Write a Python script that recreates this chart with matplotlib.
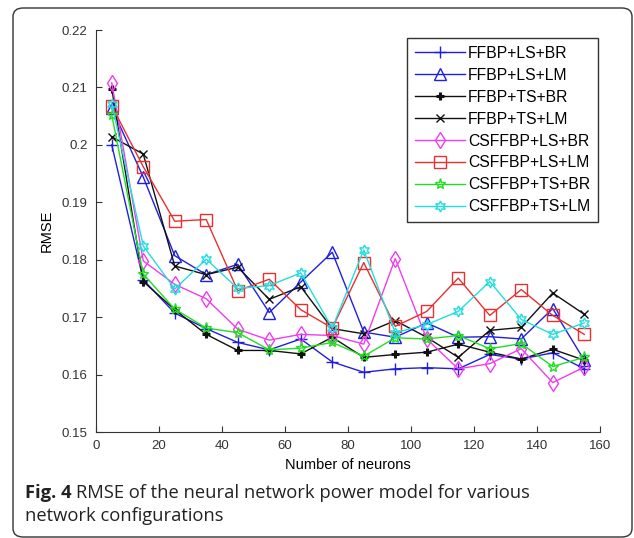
import matplotlib
matplotlib.use('Agg')
import matplotlib.pyplot as plt
from matplotlib.patches import FancyBboxPatch

# data
neurons = [5, 15, 25, 35, 45, 55, 65, 75, 85, 95, 105, 115, 125, 135, 145, 155]
labels = ["FFBP+LS+BR", "FFBP+LS+LM", "FFBP+TS+BR", "FFBP+TS+LM",
          "CSFFBP+LS+BR", "CSFFBP+LS+LM", "CSFFBP+TS+BR", "CSFFBP+TS+LM"]
ffbp_ls_br = [0.200, 0.1765, 0.1707, 0.168, 0.1656, 0.1643, 0.1662, 0.1622,
              0.1604, 0.1610, 0.1612, 0.1610, 0.1635, 0.1627, 0.1638, 0.1610]
ffbp_ls_lm = [0.2064, 0.1944, 0.1807, 0.1774, 0.1792, 0.1708, 0.1761, 0.1813,
              0.1674, 0.1665, 0.1690, 0.1665, 0.1666, 0.1662, 0.1715, 0.1625]
ffbp_ts_br = [0.2098, 0.1762, 0.1713, 0.1670, 0.1642, 0.1642, 0.1636, 0.1665,
              0.1630, 0.1635, 0.1639, 0.1653, 0.1639, 0.1627, 0.1644, 0.1625]
ffbp_ts_lm = [0.2014, 0.1984, 0.1789, 0.1774, 0.1787, 0.1731, 0.1753, 0.1680,
              0.1671, 0.1694, 0.1665, 0.1630, 0.1677, 0.1682, 0.1742, 0.1705]
csffbp_ls_br = [0.2108, 0.1798, 0.1757, 0.1732, 0.1679, 0.1660, 0.1670, 0.1668,
                0.1653, 0.1802, 0.1662, 0.1610, 0.1619, 0.1645, 0.1586, 0.1613]
csffbp_ls_lm = [0.2068, 0.1962, 0.1867, 0.1870, 0.1746, 0.1766, 0.1713, 0.1681,
                0.1795, 0.1684, 0.1710, 0.1768, 0.1703, 0.1748, 0.1703, 0.1670]
csffbp_ts_br = [0.2052, 0.1775, 0.1714, 0.1681, 0.1673, 0.1643, 0.1646, 0.1656,
                0.1632, 0.1664, 0.1662, 0.1668, 0.1645, 0.1654, 0.1614, 0.1630]
csffbp_ts_lm = [0.2072, 0.1824, 0.1749, 0.1801, 0.1750, 0.1755, 0.1777, 0.1681,
                0.1817, 0.1673, 0.1687, 0.1710, 0.1762, 0.1696, 0.1670, 0.1690]

series = [ffbp_ls_br, ffbp_ls_lm, ffbp_ts_br, ffbp_ts_lm,
          csffbp_ls_br, csffbp_ls_lm, csffbp_ts_br, csffbp_ts_lm]
colors = ["#1f1fe0", "#1f1fe0", "#111111", "#111111",
          "#f03cf0", "#e83030", "#22dd22", "#22dede"]
markers = ["+", "^", "+", "x", "d", "s", "*", (6, 1, 0)]
msizes = [9, 8, 6, 6, 8, 9, 8, 8]
mews = [1.0, 1.0, 2.2, 1.0, 1.0, 1.0, 1.0, 1.0]

plt.rcParams["font.family"] = ["Liberation Sans", "DejaVu Sans"]

fig = plt.figure(figsize=(6.34, 5.38), dpi=100)
fig.patch.set_facecolor("white")

# rounded frame round the whole figure
W, H = 634, 538
frame = FancyBboxPatch((13 / W, 1 / H), 619 / W, 529 / H,
                       boxstyle="round,pad=0,rounding_size=0.016",
                       transform=fig.transFigure, fill=False,
                       edgecolor="#333333", linewidth=1.0)
fig.patches.append(frame)

ax = fig.add_axes([96 / W, 1 - 432 / H, 504 / W, 402 / H])
for ys, c, m, ms, mw, lab in zip(series, colors, markers, msizes, mews, labels):
    ax.plot(neurons, ys, color=c, marker=m, markersize=ms, markeredgewidth=mw,
            markerfacecolor="none", linewidth=1.0, label=lab)

ax.set_xlim(0, 160)
ax.set_ylim(0.15, 0.22)
ax.set_xticks(range(0, 161, 20))
ax.set_yticks([0.15, 0.16, 0.17, 0.18, 0.19, 0.20, 0.21, 0.22])
ax.set_yticklabels(["0.15", "0.16", "0.17", "0.18", "0.19", "0.2", "0.21", "0.22"])
ax.tick_params(direction="in", length=4, labelsize=9.5, colors="#333333",
               pad=6)
for s in ["top", "right"]:
    ax.spines[s].set_visible(False)
for s in ["left", "bottom"]:
    ax.spines[s].set_color("#333333")
ax.set_xlabel("Number of neurons", fontsize=10.5, labelpad=4)
ax.set_ylabel("RMSE", fontsize=10.5, labelpad=6)

leg = ax.legend(loc="upper right", bbox_to_anchor=(0.996, 0.98), fontsize=11.3,
                handlelength=3.2, borderpad=0.5, labelspacing=0.44,
                handletextpad=0.2, borderaxespad=0, fancybox=False,
                framealpha=1)
leg.get_frame().set_edgecolor("#333333")
leg.get_frame().set_linewidth(1.0)

# caption
cap1 = fig.text(25 / W, 1 - 498 / H, "Fig. 4", fontsize=13.2, fontweight="bold",
                family="Open Sans", va="baseline", color="#222222")
fig.canvas.draw()
bb = cap1.get_window_extent()
fig.text((bb.x1 + 5) / W, 1 - 498 / H,
         "RMSE of the neural network power model for various",
         fontsize=13.2, family="Open Sans", va="baseline", color="#222222")
fig.text(25 / W, 1 - 521 / H, "network configurations",
         fontsize=13.2, family="Open Sans", va="baseline", color="#222222")

fig.savefig("out.png", dpi=100, facecolor=fig.get_facecolor())
